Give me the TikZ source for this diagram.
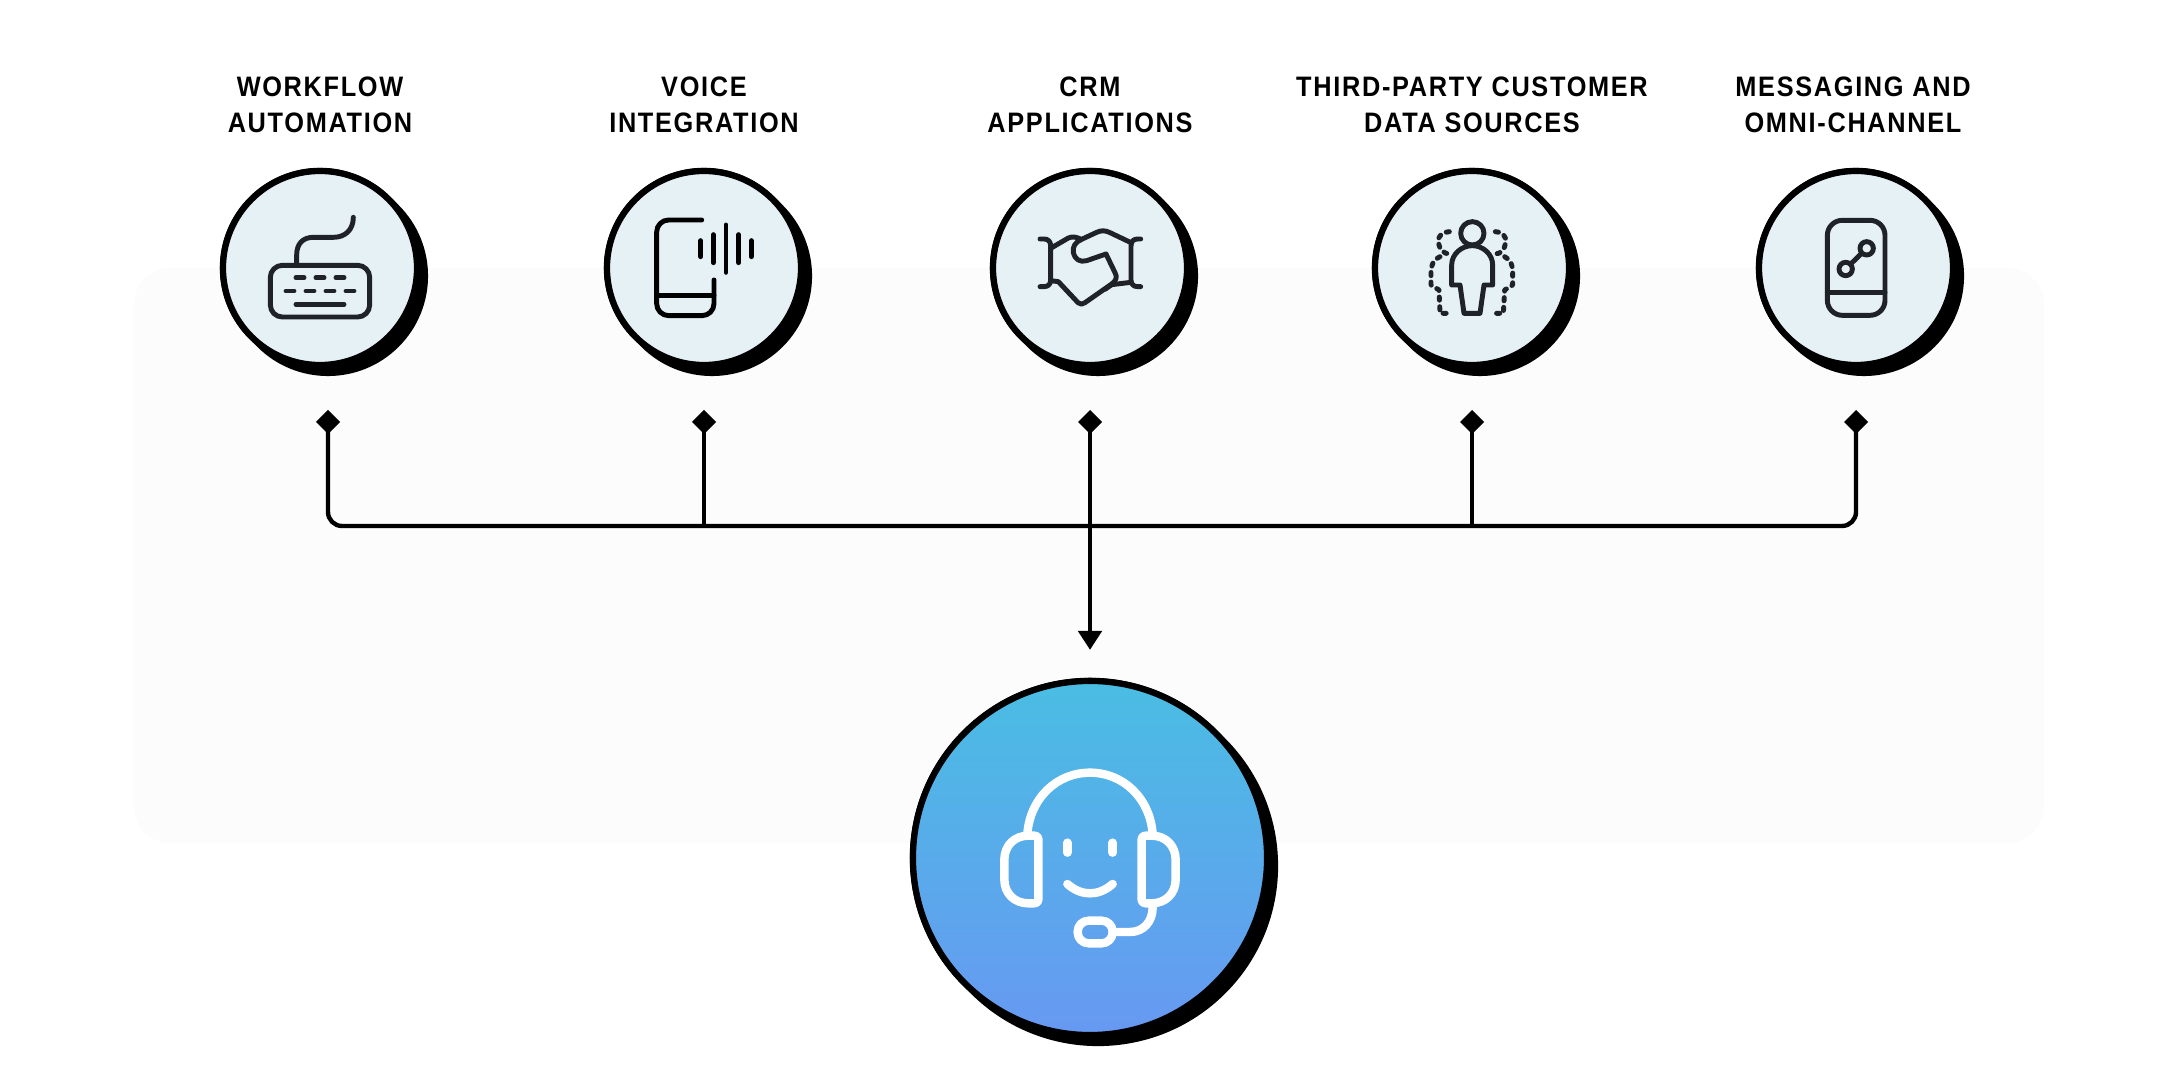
\documentclass[tikz,border=0pt]{standalone}
\usepackage{fontspec}
\newfontfamily\labelfont[FakeStretch=0.9,LetterSpace=6]{Liberation Sans}
\usetikzlibrary{arrows.meta,shapes.geometric}
\definecolor{panelgrey}{HTML}{FCFCFC}
\definecolor{discfill}{HTML}{E6F1F5}
\definecolor{iconink}{HTML}{1F2227}
\definecolor{agenttop}{HTML}{4ABDE3}
\definecolor{agentbot}{HTML}{6799F2}
\tikzset{
	disc/.style={circle,draw=black,line width=1.8pt,fill=discfill,inner sep=0pt,outer sep=0pt,minimum size=1.94cm},
	agentdisc/.style={disc,minimum size=3.54cm,top color=agenttop,bottom color=agentbot},
	discshadow/.style={black,line width=2cm,line cap=round},
	pin/.style={diamond,fill=black,inner sep=0pt,outer sep=0pt,minimum size=.24cm},
	link/.style={black,line width=1.25pt},
	sourcelabel/.style={font=\labelfont\bfseries\fontsize{8}{10.25}\selectfont,align=center,inner sep=0pt},
	icon/.style={color=iconink,line width=1.4pt,line cap=round,line join=round},
	sideperson/.style={dash pattern=on .9pt off 1.85pt}
}
\begin{document}
\begin{tikzpicture}[x=.01cm,y=-.01cm]
	\useasboundingbox (0,0) rectangle (2176,1080);
	% panel behind everything
	\fill[panelgrey,rounded corners=.36cm] (134,268) rectangle (2044,843);
	% shadows
	\foreach \cx in {320,704,1090,1472,1856}
		\draw[discshadow] (\cx,268) -- ++(8,8);
	\draw[discshadow,line width=3.6cm] (1090,858) -- ++(8,8);
	% source discs, labels and pins
	\foreach \nm/\cx/\lx/\px/\txt in {workflow/320/320/328/{WORKFLOW\\AUTOMATION},
		voice/704/704/704/{VOICE\\INTEGRATION},
		crm/1090/1090/1090/{CRM\\APPLICATIONS},
		thirdparty/1472/1472/1472/{THIRD-PARTY CUSTOMER\\DATA SOURCES},
		messaging/1856/1853/1856/{MESSAGING AND\\OMNI-CHANNEL}} {
		\node[disc] (\nm) at (\cx,268) {};
		\node[sourcelabel] (lbl\nm) at (\lx,105) {\txt};
		\node[pin] (pin\nm) at (\px,422) {};
	}
	\node[agentdisc] (agent) at (1090,858) {};
	% connectors
	\coordinate (hub) at (1090,526);
	\draw[link,rounded corners=.14cm] (pinworkflow.center) -- (pinworkflow |- hub) -- (pinmessaging |- hub) -- (pinmessaging.center);
	\draw[link] (pinvoice.center) -- (pinvoice |- hub);
	\draw[link] (pinthirdparty.center) -- (pinthirdparty |- hub);
	\draw[link,-{Triangle[width=6.6pt,length=5.4pt]},shorten >=.31cm] (pincrm.center) -- (agent);
	% keyboard
	\begin{scope}[icon,shift={(200,150)},scale=1/3]
		\draw[rounded corners=.12cm] (211,346) rectangle (509,501);
		\draw (290,346) -- (290,315) .. controls (290,280) and (310,262) .. (340,262) -- (400,262) .. controls (435,262) and (460,240) .. (460,202);
		\foreach \dx in {288,348,408}
			\draw (\dx,383) -- ++(24,0);
		\foreach \dx in {258,318,378,438}
			\draw (\dx,423) -- ++(24,0);
		\draw (288,463) -- (432,463);
	\end{scope}
	% phone with voice bars
	\begin{scope}[icon,color=black,shift={(590,150)},scale=1/3]
		\draw[rounded corners=.12cm] (335,210) -- (200,210) -- (200,497) -- (372,497) -- (372,390);
		\draw (200,437) -- (372,437);
		\foreach \bx/\by in {332/24,370/42,408/71,446/42,484/24}
			\draw (\bx,296) ++(0,-\by) -- ++(0,2*\by);
	\end{scope}
	% handshake
	\begin{scope}[icon,shift={(970,150)},scale=1/3]
		\draw (210,267) -- (222,267) .. controls (235,267) and (242,275) .. (242,288) -- (242,390) .. controls (242,402) and (235,410) .. (222,410) -- (210,410);
		\draw (512,267) -- (503,267) .. controls (490,267) and (483,275) .. (483,288) -- (483,390) .. controls (483,402) and (490,410) .. (503,410) -- (512,410);
		\draw (242,295) -- (295,264) .. controls (308,258) and (322,262) .. (333,268);
		\draw (483,278) -- (418,247) .. controls (405,241) and (393,241) .. (380,247) -- (335,268) .. controls (315,276) and (307,292) .. (310,307) .. controls (314,328) and (330,338) .. (350,332) -- (408,312) -- (435,368) .. controls (443,382) and (438,392) .. (425,402) -- (345,458) .. controls (338,464) and (330,464) .. (324,458) -- (265,395) -- (242,392);
		\draw (405,418) -- (425,404) -- (483,397);
	\end{scope}
	% person with side figures
	\begin{scope}[icon,shift={(1350,150)},scale=1/3]
		\draw (367,250) circle (35);
		\draw (305,405) -- (305,345) .. controls (305,312) and (335,287) .. (367,287) .. controls (398,287) and (428,312) .. (428,345) -- (428,405) -- (402,405) -- (390,490) -- (342,490) -- (330,405) -- cycle;
		\draw[sideperson] (298,245) .. controls (278,245) and (262,258) .. (265,278) .. controls (268,298) and (282,312) .. (298,312);
		\draw[sideperson] (436,245) .. controls (456,245) and (470,258) .. (467,278) .. controls (464,298) and (452,312) .. (436,312);
		\draw[sideperson] (270,320) .. controls (250,330) and (243,345) .. (243,365) -- (243,405) -- (267,420) -- (270,490) -- (295,490);
		\draw[sideperson] (464,320) .. controls (482,330) and (488,345) .. (488,365) -- (488,405) -- (464,420) -- (460,490) -- (437,490);
	\end{scope}
	% messaging phone
	\begin{scope}[icon,shift={(1730,150)},scale=1/3]
		\draw[rounded corners=.15cm] (292,211) rectangle (465,496);
		\draw (292,427) -- (465,427);
		\draw (347,357) circle (20);
		\draw (410,295) circle (20);
		\draw (362,342) -- (395,310);
	\end{scope}
	% headset on the agent disc
	\begin{scope}[icon,color=white,line width=2.4pt,shift={(900,670)},scale=1/3]
		\draw (382,492) .. controls (390,385) and (470,308) .. (570,308) .. controls (670,308) and (750,385) .. (758,492);
		\draw (415,507) .. controls (415,500) and (410,497) .. (403,497) -- (385,497) .. controls (345,497) and (313,525) .. (313,570) -- (313,628) .. controls (313,672) and (345,700) .. (385,700) -- (403,700) .. controls (410,700) and (415,696) .. (415,690) -- cycle;
		\draw (725,507) .. controls (725,500) and (730,497) .. (737,497) -- (755,497) .. controls (795,497) and (827,525) .. (827,570) -- (827,628) .. controls (827,672) and (795,700) .. (755,700) -- (737,700) .. controls (730,700) and (725,696) .. (725,690) -- cycle;
		\draw (502,518) -- (502,548);
		\draw (638,518) -- (638,548);
		\draw (502,642) .. controls (525,662) and (548,670) .. (570,670) .. controls (592,670) and (615,662) .. (638,642);
		\draw[rounded corners=.11cm] (533,752) rectangle (638,820);
		\draw (638,786) -- (690,786) .. controls (730,786) and (758,755) .. (758,712);
	\end{scope}
\end{tikzpicture}
\end{document}
